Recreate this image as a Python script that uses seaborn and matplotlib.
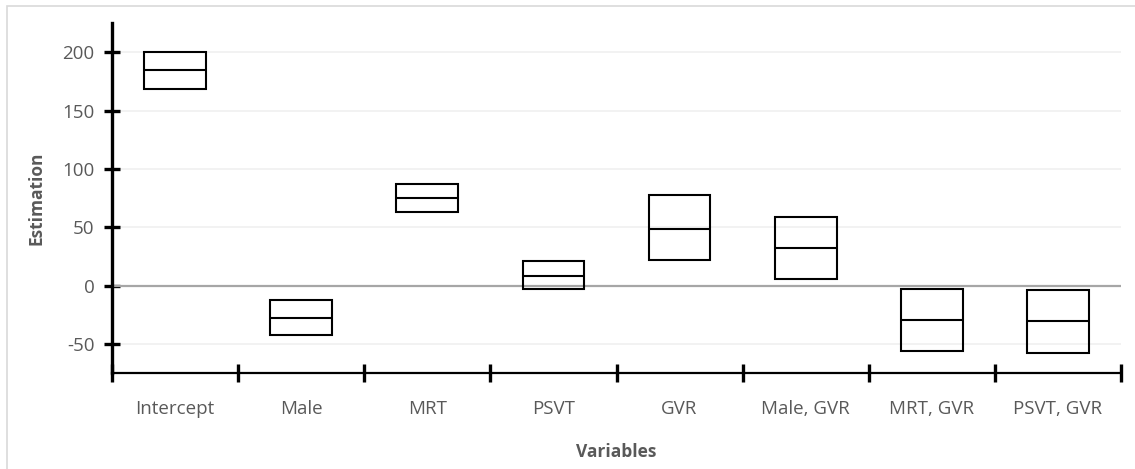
import matplotlib
matplotlib.use("Agg")
import matplotlib.pyplot as plt
from matplotlib.patches import Rectangle
import seaborn as sns
import pandas as pd
import numpy as np

categories = ["Intercept", "Male", "MRT", "PSVT", "GVR", "Male, GVR", "MRT, GVR", "PSVT, GVR"]
lows = [168.6, -42.5, 63.3, -2.8, 21.7, 6.0, -55.9, -57.6]
mids = [184.6, -27.4, 75.3, 8.8, 49.0, 32.3, -29.4, -30.5]
highs = [200.0, -12.0, 87.6, 21.4, 77.6, 58.8, -2.6, -3.7]
yticks = [-50, 0, 50, 100, 150, 200]

# long table: [low, low, mid, high, high] gives Q1=low, median=mid, Q3=high
rows = []
for c, lo, mi, hi in zip(categories, lows, mids, highs):
    for v in (lo, lo, mi, hi, hi):
        rows.append({"Variables": c, "Estimation": v})
df = pd.DataFrame(rows)

sns.set_theme(style="white")
plt.rcParams["font.family"] = ["Open Sans", "DejaVu Sans"]

fig = plt.figure(figsize=(11.35, 4.69), dpi=100)
ax = fig.add_axes([112 / 1135, 1 - 373.3 / 469, (1121 - 112) / 1135, (373.3 - 23.3) / 469])

# chart border
fig.patches.append(Rectangle((7 / 1135, -0.1), 1.2, (469 - 6) / 469 + 0.1, transform=fig.transFigure,
                             fill=False, edgecolor="#d9d9d9", linewidth=1.2, zorder=0))

ax.set_ylim(-75, 225)
ax.set_xlim(-0.5, len(categories) - 0.5)
for t in yticks:
    if t == 0:
        ax.axhline(t, color="#a6a6a6", linewidth=1.6, zorder=1)
    else:
        ax.axhline(t, color="#f0f0f0", linewidth=1.2, zorder=0)

lw = 1.5
sns.boxplot(data=df, x="Variables", y="Estimation", order=categories, ax=ax, whis=0,
            width=0.49, showcaps=False, showfliers=False,
            boxprops=dict(facecolor="none", edgecolor="black", linewidth=lw),
            medianprops=dict(color="black", linewidth=lw),
            whiskerprops=dict(linewidth=0), linewidth=lw, zorder=3)

for s in ["top", "right"]:
    ax.spines[s].set_visible(False)
ax.spines["left"].set_color("black")
ax.spines["left"].set_linewidth(2.4)
ax.spines["bottom"].set_color("black")
ax.spines["bottom"].set_linewidth(1.6)
ax.spines["bottom"].set_zorder(4)

ax.set_yticks(yticks)
ax.set_yticklabels([str(t) for t in yticks])
ax.tick_params(axis="y", which="major", direction="inout", length=11, width=2.4,
               color="black", labelsize=13.5, labelcolor="#595959", pad=7, left=True)

ax.set_xticks(np.arange(-0.5, len(categories)), minor=False)
ax.set_xticklabels([])
ax.set_xticks(np.arange(len(categories)), minor=True)
ax.set_xticklabels(categories, minor=True)
ax.tick_params(axis="x", which="major", direction="inout", length=13, width=2.4,
               color="black", bottom=True)
ax.tick_params(axis="x", which="minor", length=0, labelsize=13.5, labelcolor="#595959", pad=19)

ax.set_xlabel("Variables", fontsize=12.5, fontweight="bold", color="#595959", labelpad=18)
ax.set_ylabel("Estimation", fontsize=12.5, fontweight="bold", color="#595959", labelpad=12)
ax.grid(False)
ax.set_facecolor("white")
ax.patch.set_alpha(0)

fig.savefig("out.png", dpi=100, facecolor="white")
